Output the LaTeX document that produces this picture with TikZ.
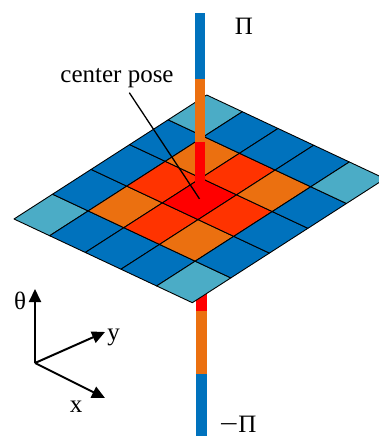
\documentclass[tikz,border=0pt]{standalone}
\usepackage{fontspec}
\setmainfont{Liberation Serif}
\usetikzlibrary{arrows.meta}
\definecolor{cblue}{RGB}{0,114,189}
\definecolor{corange}{RGB}{235,112,16}
\definecolor{credor}{RGB}{255,51,0}
\definecolor{cred}{RGB}{255,0,0}
\definecolor{clight}{RGB}{75,172,198}
\colorlet{g0}{cred}
\colorlet{g1}{credor}
\colorlet{g2}{corange}
\colorlet{g4}{cblue}
\colorlet{g5}{cblue}
\colorlet{g8}{clight}
\tikzset{
  cellbox/.style={fill=#1, draw=black, line width=0.9pt, line join=round},
  axisarrow/.style={line width=2pt, -{Triangle[length=13pt,width=12pt]}},
  lbl/.style={inner sep=0pt, anchor=base, font=\fontsize{25}{25}\selectfont},
  pilbl/.style={inner sep=0pt, anchor=base, font=\fontsize{25}{25}\selectfont}
}
\begin{document}
\begin{tikzpicture}[x=1pt,y=-1pt]
\clip (0,0) rectangle (379,436);
% lower part of the theta pole (behind the grid)
\fill[cred] (195.95,199) rectangle (206.65,311);
\fill[corange] (195.95,311) rectangle (206.65,374);
\fill[cblue] (195.95,374) rectangle (206.65,440);
% grid
\begin{scope}[shift={(14,219)}, x={(38.54pt,24.8pt)}, y={(35.66pt,-16.74pt)}]
  \foreach \i in {0,...,4}{
    \foreach \j in {0,...,4}{
      \pgfmathtruncatemacro{\dd}{(\i-2)*(\i-2)+(\j-2)*(\j-2)}
      \filldraw[cellbox=g\dd] (\i,\j) -- (\i+1,\j) -- (\i+1,\j+1) -- (\i,\j+1) -- cycle;
    }
  }
  \coordinate (center) at (2.5,2.5);
\end{scope}
% upper part of the theta pole (in front of the grid)
\fill[cblue] (194.65,13) rectangle (205.35,79);
\fill[corange] (194.65,79) rectangle (205.35,141.7);
\fill[cred] (194.65,141.7) rectangle (205.35,199);
% labels
\node[pilbl] (pitop) at (244,35) {Π};
\node[pilbl] (pibot) at (238,432) {\scalebox{1.35}[1]{−}Π};
\node[lbl] (cp) at (117,82) {center pose};
\coordinate (cpstart) at (129.3,92.7);
\draw[line width=1.3pt] (cpstart) -- (center);
% axes
\coordinate (O) at (35,363);
\coordinate (thtip) at (35,289);
\coordinate (ytip) at (105,332);
\coordinate (xtip) at (105,398);
\draw[axisarrow] (O) -- (thtip);
\draw[axisarrow] (O) -- (ytip);
\draw[axisarrow] (O) -- (xtip);
\node[lbl] (th) at (20,309) {θ};
\node[lbl] (ylab) at (113.5,340) {y};
\node[lbl] (xlab) at (76,412) {x};
\end{tikzpicture}
\end{document}
